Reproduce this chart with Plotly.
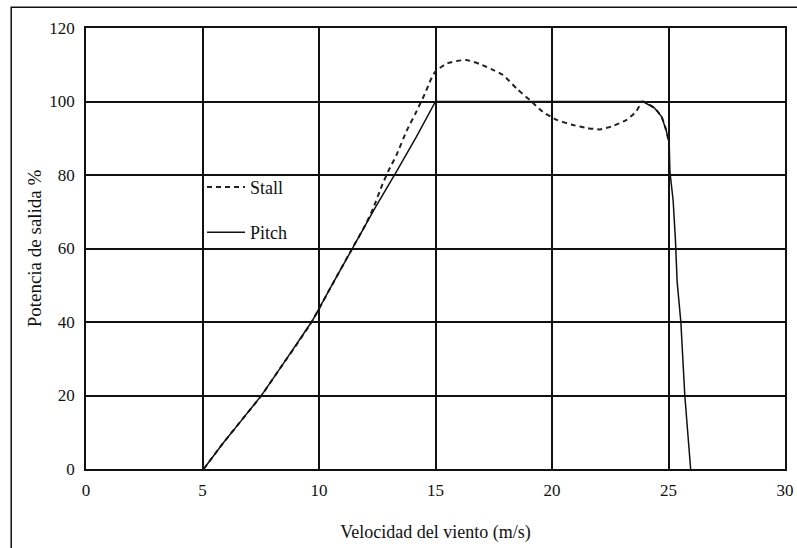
import plotly.graph_objects as go

# Wind speed (m/s) and output power (%)
pitch_x = [5.05, 5.88, 6.68, 7.54, 8.33, 9.0, 9.7, 10.5, 11.47, 12.4, 13.33, 14.19, 15.0,
           20.0, 23.9, 24.4, 24.7, 24.9, 25.03, 25.06, 25.2, 25.3, 25.37, 25.53, 25.7, 25.95]
pitch_y = [0, 7, 13.3, 20.1, 27.4, 33.5, 40.2, 49.4, 60.5, 71, 81, 90.5, 100,
           100, 100, 98.2, 95.9, 92.2, 88.6, 80.9, 73, 62, 51, 40, 20, 0]

stall_x = [5.05, 5.88, 6.68, 7.54, 8.33, 9.0, 9.7, 10.5, 11.47, 12.0, 12.33, 12.68, 12.97,
           13.33, 13.76, 14.16, 14.55, 14.8, 15.0, 15.5, 16.3, 16.9, 17.4, 17.9, 18.5,
           19.05, 19.6, 20.2, 20.9, 21.5, 22.06, 22.6, 23.2, 23.6, 23.9, 24.4, 24.7,
           24.9, 25.03]
stall_y = [0, 7, 13.3, 20.1, 27.4, 33.5, 40.2, 49.4, 60.5, 66.5, 71, 76.8, 81,
           85.5, 92, 97, 102.2, 106, 108.2, 110.4, 111.3, 110.2, 108.8, 107.2, 103.4,
           100.4, 97.2, 95, 93.6, 92.8, 92.4, 93.3, 95, 97.2, 100, 98.2, 95.9,
           92.2, 88.6]

x_ticks = [0, 5, 10, 15, 20, 25, 30]
y_ticks = [0, 20, 40, 60, 80, 100, 120]

FONT = "Liberation Serif, DejaVu Serif, serif"

fig = go.Figure()
fig.add_trace(go.Scatter(x=stall_x, y=stall_y, mode="lines", name="Stall",
                         legendgroup="s",
                         line=dict(color="#222", width=2, dash="5px,4px",
                                   shape="spline", smoothing=0.5)))
fig.add_trace(go.Scatter(x=pitch_x, y=pitch_y, mode="lines", name="Pitch",
                         legendgroup="p",
                         line=dict(color="#111", width=1.5)))

axis_common = dict(showgrid=True, gridcolor="#111", gridwidth=1.5,
                   showline=True, linecolor="#111", linewidth=1.5, mirror=True,
                   zeroline=False, ticks="", automargin=False,
                   tickfont=dict(family=FONT, size=17, color="#111"))

fig.update_xaxes(range=[0, 30], tickvals=x_ticks, ticktext=[str(v) for v in x_ticks],
                 title=dict(text="Velocidad del viento (m/s)",
                            font=dict(family=FONT, size=18, color="#111"), standoff=26),
                 ticklabelstandoff=5, **axis_common)
fig.update_yaxes(range=[0, 120], tickvals=y_ticks, ticktext=[str(v) for v in y_ticks],
                 title=dict(text="Potencia de salida %",
                            font=dict(family=FONT, size=19, color="#111"), standoff=3),
                 ticklabelstandoff=6, **axis_common)

fig.update_layout(
    width=797, height=548,
    margin=dict(l=86, r=12, t=28, b=79, autoexpand=False),
    paper_bgcolor="white", plot_bgcolor="white",
    showlegend=True,
    legend=dict(x=0.166, y=0.681, xanchor="left", yanchor="top",
                bgcolor="rgba(0,0,0,0)", tracegroupgap=19, itemwidth=38,
                font=dict(family=FONT, size=18, color="#111")),
    shapes=[dict(type="rect", xref="paper", yref="paper",
                 x0=-0.107, x1=1.1, y0=-0.3, y1=1.047,
                 line=dict(color="#111", width=1.5), fillcolor="rgba(0,0,0,0)", layer="below")],
)

fig.write_html("out.html", config={"displayModeBar": False},
               post_script="document.body.style.margin='0';document.body.style.overflow='hidden';")
